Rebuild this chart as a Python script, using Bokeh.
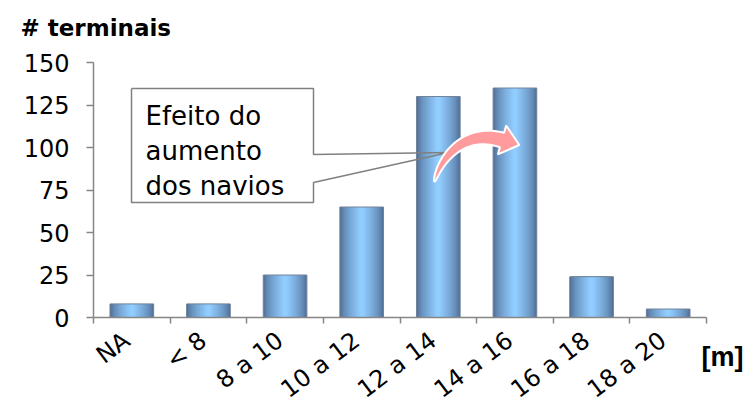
import numpy as np
from bokeh.plotting import figure
from bokeh.models import Range1d, FixedTicker
from bokeh.core.properties import value
from bokeh.embed import file_html
from bokeh.resources import INLINE

# ---- data ---------------------------------------------------------------
categories = ["NA", "< 8", "8 a 10", "10 a 12", "12 a 14", "14 a 16", "16 a 18", "18 a 20"]
terminals = [8, 8, 25, 65, 130, 135, 24, 5]
y_ticks = [0, 25, 50, 75, 100, 125, 150]

# ---- layout -------------------------------------------------------------
# The frame fills the whole canvas; the axes sit at fixed data positions,
# so the titles around the chart can be drawn as ordinary text.
W, H = 745, 406
X0_PX, X1_PX = 93, 706        # where x = 0 and x = NCAT fall on the canvas
Y0_PX, Y1_PX = 317, 62        # where y = 0 and y = YMAX fall on the canvas
YMAX = 150
NCAT = len(categories)
PX_X = (X1_PX - X0_PX) / NCAT
PX_Y = (Y0_PX - Y1_PX) / YMAX

FONT = "DejaVu Sans"
AXIS_GREY = "#868686"

p = figure(width=W, height=H, output_backend="svg", toolbar_location=None,
           x_range=Range1d(-X0_PX / PX_X, (W - X0_PX) / PX_X),
           y_range=Range1d((Y0_PX - H) / PX_Y, Y0_PX / PX_Y),
           min_border=0)
p.outline_line_color = None
p.xgrid.visible = False
p.ygrid.visible = False
p.background_fill_color = "white"
p.border_fill_color = "white"

def to_data(px, py):
    return (px - X0_PX) / PX_X, (Y0_PX - py) / PX_Y

# ---- axes ---------------------------------------------------------------
centers = [i + 0.5 for i in range(NCAT)]
label_pos = [c - 5 / PX_X for c in centers]   # rotated labels end at the bar centre
xa = p.xaxis[0]
xa.fixed_location = 0
xa.bounds = (0, NCAT)
xa.ticker = FixedTicker(ticks=label_pos, minor_ticks=list(range(NCAT + 1)))
xa.major_label_overrides = {c: lab for c, lab in zip(label_pos, categories)}
xa.major_tick_line_color = None
xa.minor_tick_line_color = AXIS_GREY
xa.minor_tick_line_width = 1.5
xa.minor_tick_out = 6
xa.minor_tick_in = 0
xa.axis_line_color = AXIS_GREY
xa.axis_line_width = 1.5
xa.major_label_orientation = np.deg2rad(37)
xa.major_label_text_font = FONT
xa.major_label_text_font_size = "24px"
xa.major_label_text_color = "black"
xa.major_label_standoff = 14

ya = p.yaxis[0]
ya.fixed_location = 0
ya.bounds = (0, YMAX)
ya.ticker = FixedTicker(ticks=y_ticks, minor_ticks=[])
ya.axis_line_color = AXIS_GREY
ya.axis_line_width = 1.5
ya.major_tick_line_color = AXIS_GREY
ya.major_tick_line_width = 1.5
ya.major_tick_out = 7
ya.major_tick_in = 0
ya.major_label_text_font = FONT
ya.major_label_text_font_size = "24px"
ya.major_label_text_color = "black"
ya.major_label_standoff = 17

# ---- bars with a cylinder-like horizontal shading ----------------------
BAR_W = 0.57
dark = np.array([80, 110, 150])
light = np.array([145, 205, 255])
steps = 16
for k in range(steps):
    frac = k / (steps - 1)
    t = frac ** 0.7
    col = dark + (light - dark) * t
    hexcol = "#%02x%02x%02x" % tuple(int(round(c)) for c in col)
    w = BAR_W * (1 - 0.92 * frac)
    p.vbar(x=centers, top=terminals, width=w, bottom=0,
           fill_color=hexcol, line_color=None)
p.vbar(x=centers, top=terminals, width=BAR_W, bottom=0,
       fill_color=None, line_color="#72849a", line_width=1)

# ---- callout box --------------------------------------------------------
box_px = [(131, 88), (313, 88), (313, 154), (448, 152), (313, 182), (313, 202), (131, 202)]
bx, by = zip(*[to_data(*pt) for pt in box_px])
rect_px = [(131, 88), (313, 88), (313, 202), (131, 202)]
rx, ry = zip(*[to_data(*pt) for pt in rect_px])
p.patch(list(rx), list(ry), fill_color="white", line_color=None)
p.line(list(bx) + [bx[0]], list(by) + [by[0]], line_color="#808080", line_width=1.5)

callout_lines = ["Efeito do", "aumento", "dos navios"]
for i, txt in enumerate(callout_lines):
    tx, ty = to_data(145, 115 + i * 35)
    p.text(x=[tx], y=[ty], text=[txt], text_font=value(FONT),
           text_font_size="26px", text_color="black",
           text_baseline="middle", text_align="left")

# ---- curved arrow -------------------------------------------------------
def cubic(p0, p1, p2, p3, t):
    t = t[:, None]
    return ((1 - t) ** 3) * p0 + 3 * ((1 - t) ** 2) * t * p1 + 3 * (1 - t) * t ** 2 * p2 + t ** 3 * p3

def cubic_d(p0, p1, p2, p3, t):
    t = t[:, None]
    return 3 * ((1 - t) ** 2) * (p1 - p0) + 6 * (1 - t) * t * (p2 - p1) + 3 * t ** 2 * (p3 - p2)

head_dir = np.array([15.5, 4.5]); head_dir /= np.linalg.norm(head_dir)
P0 = np.array([434.0, 181.0])
P3 = np.array([501.5, 139.5])
P1 = np.array([440.0, 158.0])
P2 = P3 - 40 * head_dir
ts = np.linspace(0, 1, 40)
pts = cubic(P0, P1, P2, P3, ts)
tang = cubic_d(P0, P1, P2, P3, ts)
tang /= np.linalg.norm(tang, axis=1)[:, None]
norm = np.stack([tang[:, 1], -tang[:, 0]], axis=1)
half = 0.5 + 7.0 * ts ** 0.7
upper = pts + norm * half[:, None]
lower = pts - norm * half[:, None]
n_head = np.array([head_dir[1], -head_dir[0]])
corner_a = P3 + n_head * 15
corner_b = P3 - n_head * 15
tip = P3 + head_dir * 18
outline = list(upper) + [corner_a, tip, corner_b] + list(lower[::-1])
ax_, ay_ = zip(*[to_data(x, y) for x, y in outline])
p.patch(list(ax_), list(ay_), fill_color="#ff9b9d", line_color="white", line_width=2)

# ---- axis titles --------------------------------------------------------
tx, ty = to_data(20, 27)
p.text(x=[tx], y=[ty], text=["# terminais"], text_font=value(FONT),
       text_font_style="bold", text_font_size="23px", text_color="black",
       text_baseline="middle", text_align="left")
tx, ty = to_data(701, 356)
p.text(x=[tx], y=[ty], text=["[m]"], text_font=value("Liberation Sans"),
       text_font_style="bold", text_font_size="27px", text_color="black",
       text_baseline="middle", text_align="left")

open("out.html", "w").write(file_html(p, INLINE))
